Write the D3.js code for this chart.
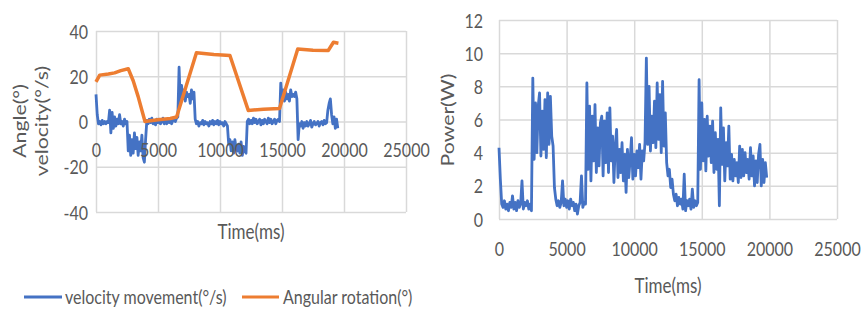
<!DOCTYPE html>
<html>
<head>
<meta charset="utf-8">
<script src="https://cdn.jsdelivr.net/npm/d3@7"></script>
<style>
  html, body { margin: 0; padding: 0; background: #fff; }
  svg { display: block; font-family: Lato, "Liberation Sans", sans-serif; }
</style>
</head>
<body>
<svg width="865" height="311"></svg>
<script>
// noisy series are sampled every 100 ms
const step = 100;

// velocity movement (°/s)
const velocity = [
  12, 3, -1, 0, -1.5, 0.5, -1, 0, -1, 0,
  -0.5, 5, -5, 4, -3, 2, -2, 1, -1, 3,
  -1, 0, -2, 1, -1, 0, -13, -6, -15, -8,
  -14, -5, -12, -7, -15, -9, -13, -6, -16, -18,
  -8, 0.5, -1, 1, -0.5, 1.5, -1, 0.5, -1.5, 1,
  -0.5, 1, -1, 0, 1.5, -1, 0.5, -1, 1, -0.5,
  1, -1, 0.5, 1, 0, 1.5, 2, 24, 8, 16,
  10, 14, 9, 13, 11, 12, 8, 14, 10, 13,
  1, -1, 0, -2, -0.5, -1, 0.5, -1.5, 0, -1,
  -0.5, -2, 0, -1, 0.5, -1.5, 0, -1, 0.5, -1.5,
  0, -1, -0.5, -2, 0, -1, -2, -10, -8, -13,
  -9, -14, -8, -12, -13, -10, -14, -9, -15, -11,
  -13, -14, 0, 1, -1, 0.5, -1, 1.5, -0.5, 1,
  -1, 0, 1, -1.5, 0.5, -1, 1, 0, -1, 1.5,
  -0.5, 1, -1, 0, 1, -1, 0.5, 1, 0, 17,
  10, 14, 9, 13, 10, 12, 9, 14, 11, 12,
  11, 13, 10, -8, -1, -2, 0, -3, -0.5, -2,
  0, -2, -1, 0.5, -2.5, -1, 0, -1.5, -1, 0,
  -2, -0.5, 0, -1.5, 0.5, -1, -0.5, 5, 8, 10,
  3, -1, 2, -3, 1, -3
];

// angular rotation (°)
const rotationTime = [0, 300, 1000, 1500, 2000, 2600, 3000, 3400, 3700, 3950, 5000, 6000, 6500,
  8100, 9500, 10800, 12280, 13500, 14800, 16270, 17500, 18730, 19150, 19550];
const rotationAngle = [17.5, 20.5, 21, 21.5, 22.5, 23.3, 18, 11, 5, 0, 0.8, 1.3, 2,
  30.4, 29.6, 29.2, 4.9, 5.4, 5.7, 32, 31.5, 31.4, 35, 34.6];

// power (W)
const power = [
  4.3, 2.4, 0.9, 0.7, 1.1, 0.6, 0.9, 0.5, 1.0, 0.7,
  1.4, 0.6, 1.0, 0.5, 1.1, 0.7, 0.9, 2.3, 0.6, 1.0,
  0.8, 1.1, 0.6, 0.9, 0.5, 8.5, 3.6, 7.0, 4.0, 6.8,
  7.6, 3.8, 6.5, 4.2, 7.2, 3.7, 7.6, 4.5, 7.4, 5.0,
  4.4, 1.9, 1.2, 0.8, 1.1, 0.7, 1.0, 2.3, 0.8, 1.2,
  0.7, 1.1, 0.6, 1.2, 0.8, 1.0, 0.5, 0.9, 0.3, 0.8,
  1.0, 2.6, 0.7, 1.0, 0.9, 8.2, 3.0, 6.8, 2.3, 6.2,
  3.5, 6.9, 2.8, 5.5, 3.2, 5.8, 6.2, 2.6, 5.9, 3.4,
  6.4, 2.8, 6.7, 3.5, 5.0, 2.2, 4.4, 5.4, 2.5, 4.2,
  2.8, 4.6, 2.3, 3.9, 1.6, 4.2, 2.5, 3.6, 4.9, 2.4,
  3.9, 2.6, 4.1, 3.1, 4.5, 2.4, 4.1, 3.5, 4.6, 9.7,
  4.5, 8.0, 4.1, 6.2, 4.6, 7.1, 4.3, 8.2, 4.8, 7.5,
  4.0, 8.3, 4.4, 6.4, 3.4, 2.6, 3.0, 1.9, 2.4, 1.5,
  1.1, 1.5, 0.8, 1.3, 0.9, 1.2, 0.6, 2.7, 0.5, 1.1,
  0.8, 1.2, 0.6, 1.8, 0.7, 1.1, 0.8, 1.0, 8.4, 3.0,
  7.0, 3.5, 6.0, 2.9, 6.2, 3.8, 5.6, 3.4, 5.9, 2.8,
  5.2, 3.0, 4.8, 0.8, 6.7, 3.3, 5.5, 2.3, 4.6, 3.2,
  5.6, 2.4, 3.9, 2.3, 3.6, 2.6, 3.4, 2.2, 4.4, 2.5,
  4.2, 2.6, 4.0, 2.8, 3.6, 2.4, 4.3, 2.6, 3.8, 2.0,
  3.5, 2.2, 3.9, 4.5, 2.0, 3.6, 2.2, 3.4, 2.5
];

const timeTicks = [0, 5000, 10000, 15000, 20000, 25000];
const angleTicks = [-40, -20, 0, 20, 40];
const powerTicks = [0, 2, 4, 6, 8, 10, 12];

const svg = d3.select("svg");
const stretch = 1.25;   // text in the source is drawn taller than wide
const fontFamily = "Lato, 'Liberation Sans', sans-serif";
const gridColor = "#d9d9d9";
const textColor = "#595959";
const blue = "#4472c4", orange = "#ed7d31";
const plain = d => String(d);   // keep an ascii hyphen for negatives

function styleLabels(g) {
  g.attr("font-family", fontFamily).attr("font-size", 16);
  g.select(".domain").remove();
  g.selectAll("text").attr("fill", textColor);
}

// draws grid + tick labels for one panel, returns its scales
function panel(box, yDomain, yTicks, xLabelY, yPad) {
  const x = d3.scaleLinear().domain([0, 25000]).range([box.left, box.right]);
  const y = d3.scaleLinear().domain(yDomain).range([box.bottom, box.top]);

  svg.append("g")
    .attr("transform", `translate(0,${box.bottom})`)
    .call(d3.axisBottom(x).tickValues(timeTicks).tickSize(-(box.bottom - box.top)).tickFormat(""))
    .call(g => g.select(".domain").remove())
    .call(g => g.selectAll("line").attr("stroke", gridColor).attr("stroke-width", 1.5));

  svg.append("g")
    .attr("transform", `translate(${box.left},0)`)
    .call(d3.axisLeft(y).tickValues(yTicks).tickSize(-(box.right - box.left)).tickFormat(""))
    .call(g => g.select(".domain").remove())
    .call(g => g.selectAll("line").attr("stroke", gridColor).attr("stroke-width", 1.5));

  const labels = svg.append("g");

  labels.append("g")
    .attr("transform", `translate(0,${xLabelY})`)
    .call(d3.axisBottom(x).tickValues(timeTicks).tickSize(0).tickPadding(0).tickFormat(plain))
    .call(styleLabels)
    .call(g => g.selectAll("text")
      .attr("y", 0).attr("dy", "0.35em")
      .attr("transform", `scale(1,${stretch})`));

  labels.append("g")
    .attr("transform", `translate(${box.left},0)`)
    .call(d3.axisLeft(y).tickValues(yTicks).tickSize(0).tickPadding(yPad).tickFormat(plain))
    .call(styleLabels)
    .call(g => g.selectAll("text")
      .attr("dy", "0.35em")
      .attr("transform", `scale(1,${stretch})`));

  return { x, y, labels };
}

function hText(x, y, str, size) {
  svg.append("text")
    .attr("transform", `translate(${x},${y}) scale(1,${stretch})`)
    .attr("text-anchor", "middle").attr("dy", "0.35em")
    .attr("font-size", size).attr("fill", textColor)
    .text(str);
}

function vText(x, y, str, size) {
  svg.append("text")
    .attr("transform", `translate(${x},${y}) rotate(-90) scale(${stretch},1)`)
    .attr("text-anchor", "middle").attr("dy", "0.35em")
    .attr("font-size", size).attr("fill", textColor)
    .text(str);
}

// ---- left: velocity / angle ----
const left = panel({ left: 96, right: 406, top: 31, bottom: 212 }, [-40, 40], angleTicks, 150, 8);

const velLine = d3.line()
  .x((d, i) => left.x(i * step))
  .y(d => left.y(d));

const rotLine = d3.line()
  .x((d, i) => left.x(rotationTime[i]))
  .y(d => left.y(d));

svg.append("path")
  .datum(velocity)
  .attr("fill", "none").attr("stroke", blue).attr("stroke-width", 2.8)
  .attr("stroke-linejoin", "round")
  .attr("d", velLine);

svg.append("path")
  .datum(rotationAngle)
  .attr("fill", "none").attr("stroke", orange).attr("stroke-width", 3.5)
  .attr("stroke-linejoin", "round")
  .attr("d", rotLine);

left.labels.raise();

vText(20, 121, "Angle(°)", 17);
vText(42, 121, "velocity(°/s)", 17);
hText(251, 232, "Time(ms)", 17);

// legend
const legend = svg.append("g").attr("font-size", 16).attr("fill", textColor);
legend.append("line").attr("x1", 24).attr("x2", 62).attr("y1", 297).attr("y2", 297)
  .attr("stroke", blue).attr("stroke-width", 3);
legend.append("text").attr("transform", `translate(65,297) scale(1,${stretch})`)
  .attr("dy", "0.35em").text("velocity movement(°/s)");
legend.append("line").attr("x1", 242).attr("x2", 279).attr("y1", 297).attr("y2", 297)
  .attr("stroke", orange).attr("stroke-width", 3);
legend.append("text").attr("transform", `translate(283,297) scale(1,${stretch})`)
  .attr("dy", "0.35em").text("Angular rotation(°)");

// ---- right: power ----
const right = panel({ left: 499, right: 837, top: 20, bottom: 219 }, [0, 12], powerTicks, 249, 16);

const powLine = d3.line()
  .x((d, i) => right.x(i * step))
  .y(d => right.y(d));

svg.append("path")
  .datum(power)
  .attr("fill", "none").attr("stroke", blue).attr("stroke-width", 2.8)
  .attr("stroke-linejoin", "round")
  .attr("d", powLine);

vText(448, 120, "Power(W)", 17);
hText(668, 286, "Time(ms)", 17);
</script>
</body>
</html>
